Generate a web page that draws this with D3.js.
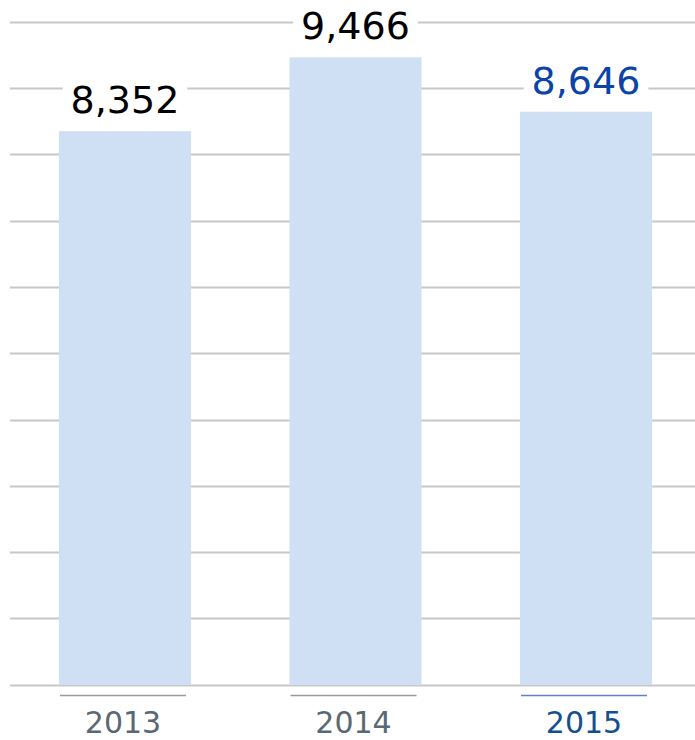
<!DOCTYPE html>
<html><head><meta charset="utf-8">
<script src="https://cdn.jsdelivr.net/npm/d3@7"></script>
<style>html,body{margin:0;padding:0;background:#fff;}svg{display:block;}</style>
</head><body>
<script>
const categories = ["2013", "2014", "2015"];
const values = [8352, 9466, 8646];
const gridTicks = [0,1000,2000,3000,4000,5000,6000,7000,8000,9000,10000];
const highlight = "2015";

const W = 695, H = 740;
const svg = d3.select("body").append("svg").attr("width", W).attr("height", H);
const y = d3.scaleLinear().domain([0, 10000]).range([684.5, 22]);
const x = d3.scaleBand().domain(categories).range([9.75, 701.25]).paddingInner(0.427).paddingOuter(0.2135);
const font = "'DejaVu Sans', Verdana, sans-serif";

svg.append("g").selectAll("line").data(gridTicks).join("line")
  .attr("x1", 10).attr("x2", W).attr("y1", d => Math.round(y(d)) + 0.5).attr("y2", d => Math.round(y(d)) + 0.5)
  .attr("stroke", "#c8c8c8").attr("stroke-width", 2);

svg.append("g").selectAll("rect").data(categories).join("rect")
  .attr("x", d => x(d)).attr("width", x.bandwidth())
  .attr("y", (d,i) => y(values[i])).attr("height", (d,i) => 685 - y(values[i]))
  .attr("fill", "#cfe0f5");

const lg = svg.append("g");
categories.forEach((c, i) => {
  const g = lg.append("g");
  const t = g.append("text").attr("x", x(c) + x.bandwidth()/2).attr("y", y(values[i]) - 18)
    .attr("text-anchor", "middle").attr("font-family", font).attr("font-size", 38)
    .attr("fill", c === highlight ? "#0b44a6" : "#000")
    .text(d3.format(",")(values[i]));
  const b = t.node().getBBox();
  g.insert("rect", "text").attr("x", b.x - 8).attr("y", b.y).attr("width", b.width + 16).attr("height", b.height).attr("fill", "#fff");
});

const ag = svg.append("g");
categories.forEach((c) => {
  const cx = x(c) + x.bandwidth()/2 - 2;
  ag.append("line").attr("x1", cx - 63).attr("x2", cx + 63).attr("y1", 695.5).attr("y2", 695.5)
    .attr("stroke", c === highlight ? "#5b82c4" : "#9a9a9a").attr("stroke-width", 1.5);
  ag.append("text").attr("x", cx).attr("y", 733).attr("text-anchor", "middle")
    .attr("font-family", font).attr("font-size", 30)
    .attr("fill", c === highlight ? "#14508f" : "#5a6873").text(c);
});
</script>
</body></html>
